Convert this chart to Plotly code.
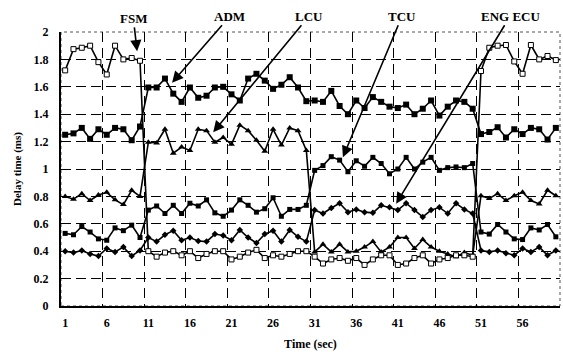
import plotly.graph_objects as go

time_sec = list(range(1, 61))

fsm = [1.72, 1.875, 1.885, 1.90, 1.78, 1.69, 1.90, 1.80, 1.81, 1.79,
       0.40, 0.36, 0.39, 0.40, 0.37, 0.40, 0.35, 0.38, 0.40, 0.40,
       0.34, 0.36, 0.39, 0.41, 0.35, 0.37, 0.36, 0.38, 0.40, 0.40,
       0.36, 0.31, 0.34, 0.35, 0.33, 0.35, 0.30, 0.34, 0.37, 0.37,
       0.30, 0.31, 0.35, 0.37, 0.31, 0.34, 0.35, 0.37, 0.37, 0.36,
       1.715, 1.885, 1.90, 1.905, 1.785, 1.695, 1.905, 1.80, 1.825, 1.795]

adm = [1.25, 1.26, 1.30, 1.22, 1.29, 1.25, 1.30, 1.29, 1.21, 1.31,
       1.595, 1.595, 1.66, 1.55, 1.49, 1.595, 1.52, 1.535, 1.595, 1.60,
       1.545, 1.50, 1.66, 1.695, 1.645, 1.585, 1.615, 1.67, 1.595, 1.495,
       1.50, 1.49, 1.57, 1.46, 1.40, 1.50, 1.445, 1.525, 1.49, 1.455,
       1.445, 1.47, 1.40, 1.44, 1.50, 1.39, 1.455, 1.50, 1.49, 1.44,
       1.255, 1.27, 1.305, 1.23, 1.29, 1.255, 1.30, 1.29, 1.215, 1.30]

lcu = [0.80, 0.78, 0.82, 0.77, 0.81, 0.83, 0.775, 0.74, 0.845, 0.80,
       1.195, 1.19, 1.29, 1.115, 1.16, 1.135, 1.29, 1.28, 1.195, 1.23,
       1.18, 1.32, 1.28, 1.21, 1.13, 1.29, 1.175, 1.30, 1.28, 1.135,
       0.395, 0.45, 0.395, 0.45, 0.395, 0.40, 0.43, 0.47, 0.395, 0.43,
       0.50, 0.50, 0.42, 0.485, 0.43, 0.40, 0.38, 0.36, 0.39, 0.37,
       0.805, 0.785, 0.82, 0.77, 0.805, 0.83, 0.77, 0.745, 0.845, 0.805]

tcu = [0.53, 0.52, 0.58, 0.54, 0.49, 0.48, 0.57, 0.55, 0.59, 0.50,
       0.70, 0.73, 0.675, 0.735, 0.675, 0.75, 0.73, 0.775, 0.68, 0.655,
       0.70, 0.775, 0.735, 0.685, 0.71, 0.79, 0.655, 0.705, 0.705, 0.735,
       0.99, 1.025, 1.09, 1.065, 0.98, 1.06, 1.02, 1.085, 1.04, 0.965,
       1.00, 1.085, 1.00, 1.05, 1.085, 0.99, 1.01, 1.015, 1.01, 1.04,
       0.54, 0.525, 0.595, 0.54, 0.49, 0.485, 0.57, 0.555, 0.595, 0.505]

eng_ecu = [0.40, 0.39, 0.405, 0.38, 0.365, 0.42, 0.395, 0.43, 0.365, 0.405,
           0.50, 0.47, 0.52, 0.55, 0.48, 0.50, 0.475, 0.47, 0.525, 0.515,
           0.48, 0.555, 0.50, 0.46, 0.525, 0.55, 0.47, 0.555, 0.505, 0.47,
           0.70, 0.675, 0.715, 0.75, 0.685, 0.705, 0.685, 0.68, 0.735, 0.72,
           0.70, 0.75, 0.70, 0.65, 0.70, 0.72, 0.675, 0.75, 0.705, 0.675,
           0.405, 0.395, 0.405, 0.385, 0.37, 0.42, 0.395, 0.43, 0.37, 0.405]

x_tick_vals = [1, 6, 11, 16, 21, 26, 31, 36, 41, 46, 51, 56]
x_grid_vals = [5.5, 10.5, 15.5, 20.5, 25.5, 30.5, 35.5, 40.5, 45.5, 50.5, 55.5]
y_tick_vals = [0, 0.2, 0.4, 0.6, 0.8, 1.0, 1.2, 1.4, 1.6, 1.8, 2.0]
y_tick_text = ["0", "0.2", "0.4", "0.6", "0.8", "1", "1.2", "1.4", "1.6", "1.8", "2"]
y_grid_vals = [0.2, 0.4, 0.6, 0.8, 1.0, 1.2, 1.4, 1.6, 1.8]

FONT = "Liberation Serif"

series = [
    ("ENG ECU", eng_ecu, dict(symbol="diamond", size=5, color="black")),
    ("TCU", tcu, dict(symbol="square", size=5, color="black")),
    ("LCU", lcu, dict(symbol="triangle-up", size=6, color="black")),
    ("ADM", adm, dict(symbol="square", size=6, color="black")),
    ("FSM", fsm, dict(symbol="square", size=5, color="white",
                      line=dict(color="black", width=1))),
]

fig = go.Figure()
for name, vals, mk in series:
    fig.add_trace(go.Scatter(x=time_sec, y=vals, name=name, mode="lines+markers",
                             line=dict(color="black", width=1.6), marker=mk,
                             cliponaxis=False))

# annotation arrows: (label, tip x, tip y, text x, text y)
labels = [
    ("FSM", 9.65, 1.86, 9.2, 2.10),
    ("ADM", 13.85, 1.63, 20.8, 2.115),
    ("LCU", 18.8, 1.268, 30.3, 2.115),
    ("TCU", 34.4, 1.086, 41.5, 2.115),
    ("ENG ECU", 40.8, 0.747, 54.5, 2.115),
]
for text, tx, ty, lx, ly in labels:
    fig.add_annotation(x=tx, y=ty, xref="x", yref="y", ax=lx, ay=ly,
                       axref="x", ayref="y", text="<b>%s</b>" % text,
                       showarrow=True, arrowhead=2, arrowsize=1.4,
                       arrowwidth=1.6, arrowcolor="black",
                       font=dict(family=FONT, size=13, color="black"))

fig.add_shape(type="rect", xref="paper", yref="paper", x0=0, x1=1, y0=0, y1=1,
              line=dict(color="#555", width=1, dash="dot"), layer="below")

fig.update_layout(
    width=563, height=356,
    margin=dict(l=61, r=3, t=32, b=50, autoexpand=False),
    paper_bgcolor="white", plot_bgcolor="white",
    showlegend=False,
    font=dict(family=FONT, size=12, color="black"),
    xaxis=dict(range=[0.5, 60.5], tickvals=x_tick_vals, showgrid=False,
               automargin=False,
               zeroline=False, showline=True, linecolor="black", linewidth=2,
               ticks="", ticklabelstandoff=5,
               tickfont=dict(family=FONT, size=12, weight="bold"),
               minor=dict(tickvals=x_grid_vals, showgrid=True, gridcolor="black",
                          gridwidth=1, griddash="10px,6px", ticks=""),
               title=dict(text="<b>Time (sec)</b>", standoff=10,
                          font=dict(family=FONT, size=12))),
    yaxis=dict(range=[0, 2], tickvals=y_tick_vals, ticktext=y_tick_text,
               showgrid=False, zeroline=False, showline=True, linecolor="black",
               automargin=False,
               linewidth=2, ticks="", ticklabelstandoff=8,
               tickfont=dict(family=FONT, size=12, weight="bold"),
               minor=dict(tickvals=y_grid_vals, showgrid=True, gridcolor="black",
                          gridwidth=1, griddash="10px,5px", ticks=""),
               title=dict(text="<b>Delay time (ms)</b>", standoff=10,
                          font=dict(family=FONT, size=11))),
)

fig.write_html("out.html",
               config={"displayModeBar": False},
               post_script="document.body.style.margin='0px';"
                           "document.body.style.overflow='hidden';")
